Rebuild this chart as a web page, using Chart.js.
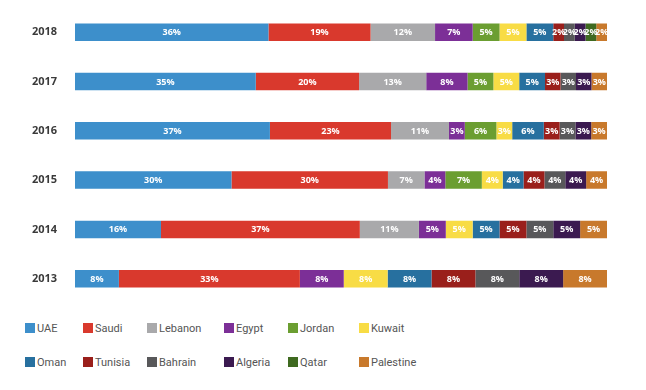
<html><head><meta charset="UTF-8">
<title>Share by country</title>
<style>
    body, html {
        margin: 0;
        padding: 0;
        background-color: #fff;
        font-family: 'Roboto', sans-serif;
    }
    .chart-box {
        position: absolute;
        left: 0;
        top: 0;
        width: 646px;
        height: 310px;
    }
    .legend {
        position: absolute;
        left: 25px;
        top: 320px;
        display: grid;
        grid-template-columns: 58px 64px 77px 64px 71px 120px;
        row-gap: 18px;
        font-size: 11px;
        color: #555;
    }
    .legend span {
        display: flex;
        align-items: center;
        height: 16px;
    }
    .legend i {
        display: inline-block;
        width: 10px;
        height: 10px;
        margin-right: 2px;
    }
</style>
<script src="https://cdn.jsdelivr.net/npm/chart.js"></script>
</head>
<body>
    <div class="chart-box"><canvas id="shareChart"></canvas></div>
    <div class="legend" id="legend"></div>

    <script>
        const years = ['2018', '2017', '2016', '2015', '2014', '2013'];
        const countries = ['UAE', 'Saudi', 'Lebanon', 'Egypt', 'Jordan', 'Kuwait',
                           'Oman', 'Tunisia', 'Bahrain', 'Algeria', 'Qatar', 'Palestine'];
        const colors = ['#3d8fcb', '#d9392d', '#a9a9ab', '#7c2f97', '#6b9e31', '#f8dc45',
                        '#27709f', '#9a1f1b', '#58585a', '#3b1a50', '#3f6a20', '#c8792c'];

        // percent shown on each segment (null = country missing that year)
        const uae       = [36, 35, 37, 30, 16, 8];
        const saudi     = [19, 20, 23, 30, 37, 33];
        const lebanon   = [12, 13, 11, 7, 11, null];
        const egypt     = [7, 8, 3, 4, 5, 8];
        const jordan    = [5, 5, 6, 7, null, null];
        const kuwait    = [5, 5, 3, 4, 5, 8];
        const oman      = [5, 5, 6, 4, 5, 8];
        const tunisia   = [2, 3, 3, 4, 5, 8];
        const bahrain   = [2, 3, 3, 4, 5, 8];
        const algeria   = [2, 3, 3, 4, 5, 8];
        const qatar     = [2, null, null, null, null, null];
        const palestine = [2, 3, 3, 4, 5, 8];

        const series = [uae, saudi, lebanon, egypt, jordan, kuwait,
                        oman, tunisia, bahrain, algeria, qatar, palestine];

        // rounded labels don't add to 100, so scale each row to fill the bar
        const totals = years.map((y, i) => series.reduce((s, arr) => s + (arr[i] || 0), 0));

        const datasets = series.map((arr, k) => ({
            label: countries[k],
            data: arr.map((v, i) => v == null ? null : v / totals[i] * 100),
            shown: arr,
            backgroundColor: colors[k],
            borderWidth: 0,
            barPercentage: 0.355,
            categoryPercentage: 1
        }));

        const segmentLabels = {
            id: 'segmentLabels',
            afterDatasetsDraw(chart) {
                const ctx = chart.ctx;
                ctx.save();
                ctx.font = 'bold 9px "Open Sans"';
                ctx.fillStyle = '#fff';
                ctx.textAlign = 'center';
                ctx.textBaseline = 'middle';
                chart.data.datasets.forEach((ds, k) => {
                    chart.getDatasetMeta(k).data.forEach((bar, i) => {
                        if (ds.shown[i] == null) return;
                        const p = bar.getCenterPoint();
                        ctx.fillText(ds.shown[i] + '%', p.x, p.y + 0.5);
                    });
                });
                ctx.restore();
            }
        };

        new Chart(document.getElementById('shareChart'), {
            type: 'bar',
            data: { labels: years, datasets: datasets },
            options: {
                indexAxis: 'y',
                responsive: true,
                maintainAspectRatio: false,
                animation: false,
                layout: { padding: { left: 32, right: 39, top: 7.5, bottom: 0 } },
                plugins: {
                    legend: { display: false },
                    tooltip: { enabled: false }
                },
                scales: {
                    x: {
                        stacked: true,
                        display: false,
                        min: 0,
                        max: 100
                    },
                    y: {
                        stacked: true,
                        grid: { display: false, drawTicks: false },
                        border: { display: false },
                        ticks: {
                            padding: 0,
                            crossAlign: 'far',
                            color: '#3a3a3a',
                            font: { family: 'Open Sans', size: 11, weight: 'bold' }
                        },
                        afterFit(scale) { scale.width = 43; }
                    }
                }
            },
            plugins: [segmentLabels]
        });

        // legend laid out as a grid, like the original
        const legend = document.getElementById('legend');
        countries.forEach((name, k) => {
            const item = document.createElement('span');
            item.innerHTML = '<i style="background:' + colors[k] + '"></i>' + name;
            legend.appendChild(item);
        });
    </script>
</body>
</html>
